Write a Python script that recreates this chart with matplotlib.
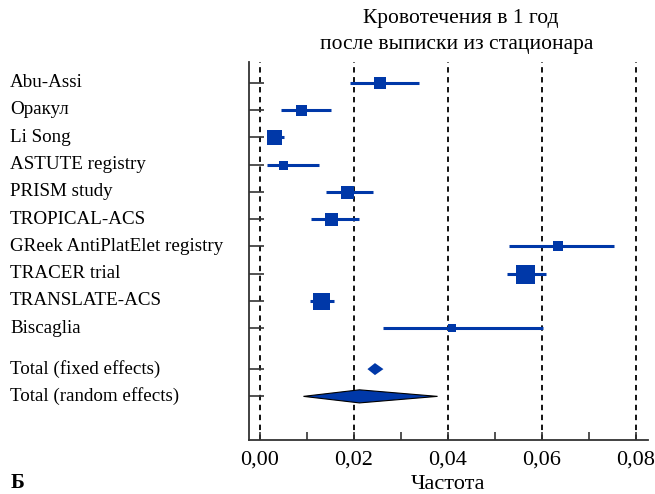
import matplotlib
matplotlib.use("Agg")
import matplotlib.pyplot as plt
from matplotlib.patches import Polygon

studies = ["Abu-Assi", "Оракул", "Li Song", "ASTUTE registry", "PRISM study",
           "TROPICAL-ACS", "GReek AntiPlatElet registry", "TRACER trial",
           "TRANSLATE-ACS", "Biscaglia"]
est = [0.0255, 0.0087, 0.0031, 0.0050, 0.0185, 0.0152, 0.0635, 0.0565, 0.0130, 0.0408]
lo = [0.0191, 0.0045, 0.0016, 0.0016, 0.0140, 0.0108, 0.0530, 0.0526, 0.0106, 0.0263]
hi = [0.0338, 0.0151, 0.0052, 0.0125, 0.0241, 0.0211, 0.0753, 0.0609, 0.0158, 0.0603]
weights = [12, 11, 15, 9, 13, 13, 10, 19, 17, 8]  # relative square size

total_labels = ["Total (fixed effects)", "Total (random effects)"]
total_est = [0.0245, 0.0212]
total_lo = [0.0229, 0.0093]
total_hi = [0.0263, 0.0378]

xticks = [0.0, 0.02, 0.04, 0.06, 0.08]
xticklabels = ["0,00", "0,02", "0,04", "0,06", "0,08"]
title_lines = ["Кровотечения в 1 год", "после выписки из стационара"]

color = "#0038A8"
plt.rcParams['font.family'] = ['Liberation Serif', 'DejaVu Serif']

fig = plt.figure(figsize=(6.55, 4.94), dpi=100)
ax = fig.add_axes([0.380, 0.1093, 0.609, 0.7652])

ys = list(range(len(studies)))
for i, y in enumerate(ys):
    ax.plot([lo[i], hi[i]], [y, y], color=color, lw=2.2, solid_capstyle='butt', zorder=3)
    ax.plot(est[i], y, marker='s', color=color, markersize=weights[i] * 0.72,
            markeredgewidth=0, zorder=4)

ty = [len(studies) + 0.5, len(studies) + 1.5]
heights = [0.22, 0.24]
edges = ['none', 'black']
for k in range(2):
    poly = Polygon([(total_lo[k], ty[k]), (total_est[k], ty[k] - heights[k]),
                    (total_hi[k], ty[k]), (total_est[k], ty[k] + heights[k])],
                   closed=True, facecolor=color, edgecolor=edges[k], lw=0.8, zorder=4)
    ax.add_patch(poly)

for xv in xticks:
    ax.axvline(xv, color='black', lw=1.3, ls=(0, (3, 2.5)), zorder=1)

ax.set_xlim(-0.0023, 0.0825)
ax.set_ylim(13.1, -0.76)

ax.set_xticks(xticks)
ax.set_xticklabels(xticklabels, fontsize=16)
ax.set_xticks([0.01, 0.03, 0.05, 0.07], minor=True)
ax.tick_params(axis='x', direction='in', length=6, width=1.2, pad=7.5, color='#333333')
ax.tick_params(axis='x', which='minor', direction='in', length=6, width=1.2, color='#333333')
ax.set_yticks(ys + ty)
ax.set_yticklabels([])
ax.tick_params(axis='y', direction='in', length=11, width=1.2, color='#333333')

for s in ['top', 'right']:
    ax.spines[s].set_visible(False)
for s in ['left', 'bottom']:
    ax.spines[s].set_linewidth(1.3)
    ax.spines[s].set_color('#333333')

all_labels = studies + total_labels
all_y = ys + ty
for lab, y in zip(all_labels, all_y):
    ax.annotate(lab, xy=(10 / 655, 0), xycoords=('figure fraction', 'data'),
                xytext=(0, y), textcoords=('offset points', 'data'),
                fontsize=13.7, ha='left', va='center')

ax.set_xlabel("Частота", fontsize=16, labelpad=4)
fig.text(461 / 655, 1 - 19 / 494, title_lines[0],
         ha='center', va='center', fontsize=15.5)
fig.text(457 / 655, 1 - 44 / 494, title_lines[1],
         ha='center', va='center', fontsize=15.5)
fig.text(11 / 655, 1 - 493 / 494, "Б", fontsize=15, fontweight='bold', ha='left', va='bottom')

fig.savefig("out.png", dpi=100)
